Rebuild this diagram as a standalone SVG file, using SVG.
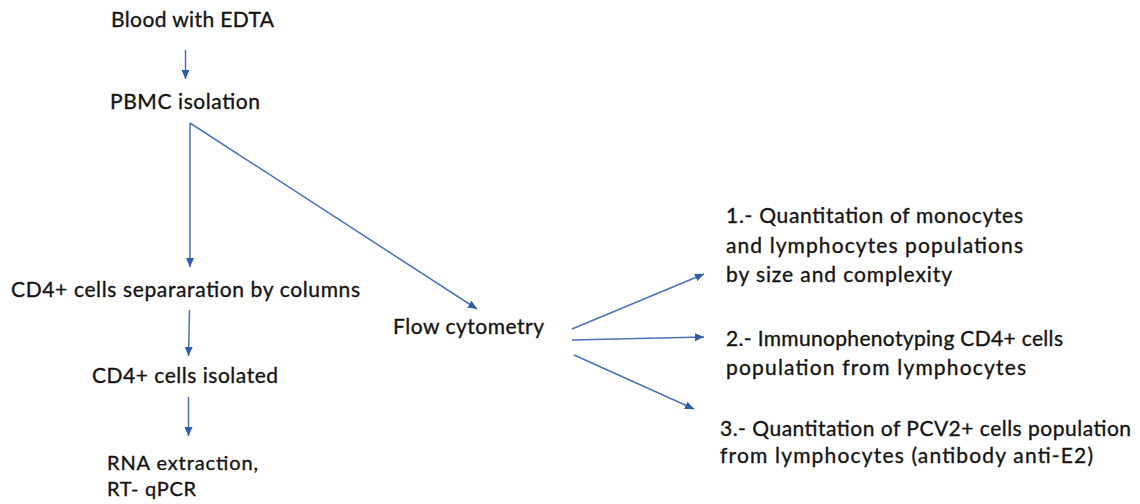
<svg xmlns="http://www.w3.org/2000/svg" width="1140" height="504" viewBox="0 0 1140 504">
<defs>
<style>
text{font-family:"Lato","Liberation Sans",sans-serif;font-size:21px;fill:#141414;stroke:#141414;stroke-width:0.35}
.c line{stroke:#4a72b8;stroke-width:1.5;fill:none}
</style>
<marker id="ah" markerUnits="userSpaceOnUse" markerWidth="10" markerHeight="8" refX="9" refY="4" orient="auto">
<path d="M0,0 L9,4 L0,8 Z" fill="#2f5ea8"/>
</marker>
</defs>
<rect width="1140" height="504" fill="#fff"/>
<g id="n1"><text x="111" y="27" textLength="163">Blood with EDTA</text></g>
<g id="n2"><text x="110" y="109" textLength="150">PBMC isolation</text></g>
<g id="n3"><text x="11" y="297" textLength="349">CD4+ cells separaration by columns</text></g>
<g id="n4"><text x="92" y="383" textLength="186">CD4+ cells isolated</text></g>
<g id="n5" style="font-size:20px"><text x="107" y="470" textLength="151" style="font-size:20px">RNA extraction,</text><text x="107" y="496" textLength="89" style="font-size:20px">RT- qPCR</text></g>
<g id="n6"><text x="393" y="334" textLength="151">Flow cytometry</text></g>
<g id="n7"><text x="726" y="223" textLength="297">1.- Quantitation of monocytes</text><text x="726" y="253" textLength="297">and lymphocytes populations</text><text x="726" y="282" textLength="226">by size and complexity</text></g>
<g id="n8"><text x="726" y="346" textLength="337">2.- Immunophenotyping CD4+ cells</text><text x="726" y="375" textLength="300">population from lymphocytes</text></g>
<g id="n9"><text x="720" y="436" textLength="411">3.- Quantitation of PCV2+ cells population</text><text x="720" y="463" textLength="373">from lymphocytes (antibody anti-E2)</text></g>
<g class="c" id="connectors">
<line x1="185.5" y1="50" x2="185.5" y2="79" marker-end="url(#ah)"/>
<line x1="190" y1="123" x2="477" y2="309" marker-end="url(#ah)"/>
<line x1="190" y1="123" x2="190" y2="267" marker-end="url(#ah)"/>
<line x1="189.5" y1="310" x2="188.5" y2="356" marker-end="url(#ah)"/>
<line x1="188.5" y1="397" x2="188.5" y2="436" marker-end="url(#ah)"/>
<line x1="572" y1="329" x2="704" y2="274" marker-end="url(#ah)"/>
<line x1="572" y1="340" x2="704" y2="337" marker-end="url(#ah)"/>
<line x1="574" y1="355" x2="694" y2="409" marker-end="url(#ah)"/>
</g>
</svg>
